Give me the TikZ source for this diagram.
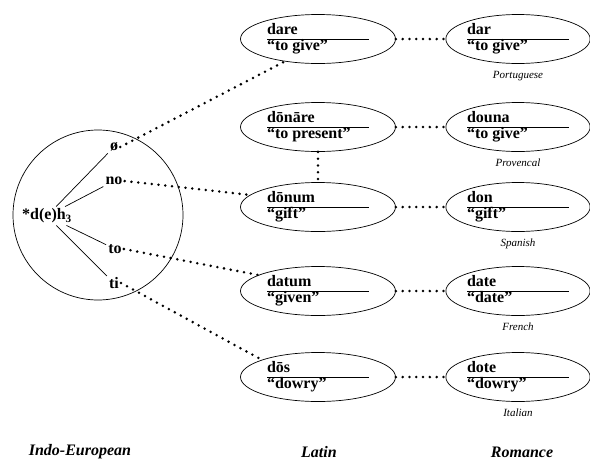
\documentclass[tikz,border=0pt]{standalone}
\usepackage{fontspec}
\setmainfont{Liberation Serif}
\usepackage{tikz}
\usetikzlibrary{shapes.geometric,positioning}
\setlength{\arrayrulewidth}{0.7pt}
\tikzstyle{latinbox} = [draw, ellipse, line width=0.7pt, minimum width=155pt, minimum height=49pt, inner sep=0pt]
\tikzstyle{romancebox} = [latinbox, minimum width=144pt]
\tikzstyle{rootbox} = [draw, circle, line width=0.7pt, minimum size=170pt]
\tikzstyle{morph} = [font=\fontsize{16}{18}\selectfont\bfseries, inner sep=2pt]
\tikzstyle{langname} = [font=\fontsize{11}{12}\selectfont\itshape, inner sep=1pt]
\tikzstyle{colhead} = [font=\fontsize{16}{18}\selectfont\bfseries\itshape]
\tikzstyle{branch} = [line width=0.7pt]
\tikzstyle{dotline} = [line width=2.8pt, line cap=round, dash pattern=on 0pt off 6.8pt]
\newcommand{\wordgloss}[2]{\fontsize{16}{14}\selectfont\bfseries
  \begin{tabular}{@{}p{102pt}@{}}#1\\\hline#2\end{tabular}}

\begin{document}
\begin{tikzpicture}[x=1pt, y=-1pt]
\useasboundingbox (0,0) rectangle (590,464);
% Indo-European root
\node[rootbox] (ie) at (98,215) {};
\node[morph] (root) at (47,216) {*d(e)h\textsubscript{3}};
\node[morph] (zero) at (114,147) {ø};
\node[morph] (no) at (114,181) {no};
\node[morph] (to) at (115,249) {to};
\node[morph] (ti) at (114,283) {ti};
\foreach \b in {zero,no,to,ti}
  \draw[branch] (root) -- (\b);
% Latin
\node[latinbox] (dare) at (318,39) {\wordgloss{dare}{“to give”}};
\node[latinbox] (donare) at (318,127) {\wordgloss{dōnāre}{“to present”}};
\node[latinbox] (donum) at (318,207) {\wordgloss{dōnum}{“gift”}};
\node[latinbox] (datum) at (318,291) {\wordgloss{datum}{“given”}};
\node[latinbox] (dos) at (318,377) {\wordgloss{dōs}{“dowry”}};
% Romance
\node[romancebox] (dar) at (518,39) {\wordgloss{dar}{“to give”}};
\node[romancebox] (douna) at (518,127) {\wordgloss{douna}{“to give”}};
\node[romancebox] (don) at (518,207) {\wordgloss{don}{“gift”}};
\node[romancebox] (date) at (518,291) {\wordgloss{date}{“date”}};
\node[romancebox] (dote) at (518,377) {\wordgloss{dote}{“dowry”}};
\node[langname, below=6pt of dar] (port) {Portuguese};
\node[langname, below=6pt of douna] (prov) {Provencal};
\node[langname, below=6pt of don] (span) {Spanish};
\node[langname, below=6pt of date] (fren) {French};
\node[langname, below=6pt of dote] (ital) {Italian};
% links
\draw[dotline] (zero.east) -- (dare.214);
\draw[dotline] (no.east) -- (donum.170);
\draw[dotline] (to.east) -- (datum.165);
\draw[dotline] (ti.east) -- (dos.163);
\draw[dotline] (donare) -- (donum);
\foreach \l/\r in {dare/dar,donare/douna,donum/don,datum/date,dos/dote}
  \draw[dotline] (\l) -- (\r);
% column heads
\node[colhead] (iehead) at (80,452) {Indo-European};
\node[colhead] (lathead) at (319,452) {Latin};
\node[colhead] (romhead) at (522,452) {Romance};
\end{tikzpicture}
\end{document}
